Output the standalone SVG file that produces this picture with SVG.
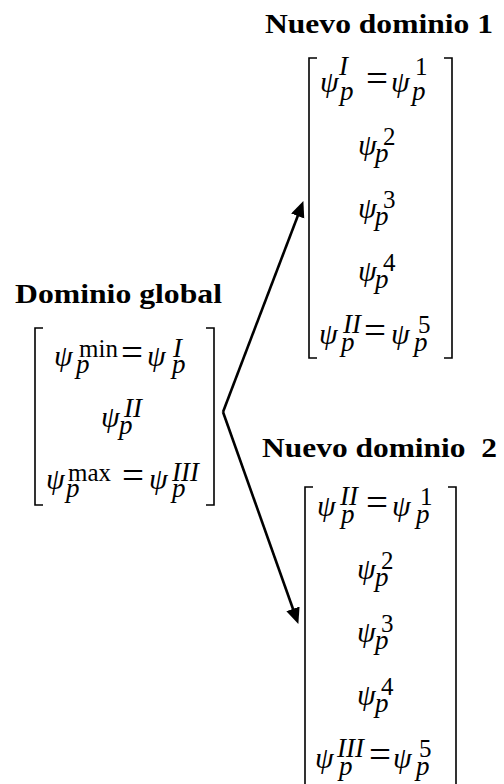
<svg xmlns="http://www.w3.org/2000/svg" width="504" height="784" viewBox="0 0 504 784">
<style>
text{font-family:"Liberation Serif","Times New Roman",serif;fill:#000}
.t{font-weight:bold;font-size:28px}
.m{font-style:italic;font-size:30px}
.s{font-style:italic;font-size:27px}
.d{font-style:normal;font-size:25px}
.e{font-style:normal;font-size:39px}
.br{fill:none;stroke:#000;stroke-width:1.6}
.ar{fill:none;stroke:#000;stroke-width:2.6}
</style>
<defs>
<marker id="ah" markerUnits="userSpaceOnUse" markerWidth="17" markerHeight="15" refX="2" refY="7" orient="auto">
<path d="M0,0 L16,7 L0,14 Z" fill="#000"/>
</marker>
</defs>
<rect width="504" height="784" fill="#fff"/>

<g id="dominio-global">
<text class="t" x="15" y="303" textLength="207" lengthAdjust="spacingAndGlyphs">Dominio global</text>
<path class="br" d="M43,328 H35 V505 H43"/>
<path class="br" d="M206,328 H214 V505 H206"/>
<text><tspan class="m" x="54" y="366">ψ</tspan><tspan class="d" x="79" y="357">min</tspan><tspan class="s" x="76" y="373">p</tspan><tspan class="e" x="121" y="366">=</tspan><tspan class="m" x="147" y="366">ψ</tspan><tspan class="s" x="173" y="357">I</tspan><tspan class="s" x="172" y="373">p</tspan></text>
<text><tspan class="m" x="101" y="427">ψ</tspan><tspan class="s" x="124" y="417">II</tspan><tspan class="s" x="119" y="434">p</tspan></text>
<text><tspan class="m" x="46" y="489">ψ</tspan><tspan class="d" x="68" y="481">max</tspan><tspan class="s" x="66" y="497">p</tspan><tspan class="e" x="122" y="489">=</tspan><tspan class="m" x="149" y="489">ψ</tspan><tspan class="s" x="172" y="481">III</tspan><tspan class="s" x="172" y="497">p</tspan></text>
</g>

<g id="nuevo-dominio-1">
<text class="t" x="265" y="33" textLength="228" lengthAdjust="spacingAndGlyphs">Nuevo dominio 1</text>
<path class="br" d="M317,58 H309 V358 H317"/>
<path class="br" d="M444,58 H452 V358 H444"/>
<text><tspan class="m" x="320" y="92">ψ</tspan><tspan class="s" x="339" y="75">I</tspan><tspan class="s" x="340" y="100">p</tspan><tspan class="e" x="366" y="92">=</tspan><tspan class="m" x="391" y="92">ψ</tspan><tspan class="d" x="415" y="75">1</tspan><tspan class="s" x="412" y="100">p</tspan></text>
<text><tspan class="m" x="358" y="155">ψ</tspan><tspan class="d" x="383" y="145">2</tspan><tspan class="s" x="375" y="162">p</tspan></text>
<text><tspan class="m" x="358" y="218">ψ</tspan><tspan class="d" x="383" y="208">3</tspan><tspan class="s" x="375" y="225">p</tspan></text>
<text><tspan class="m" x="358" y="281">ψ</tspan><tspan class="d" x="383" y="271">4</tspan><tspan class="s" x="375" y="288">p</tspan></text>
<text><tspan class="m" x="319" y="344">ψ</tspan><tspan class="s" x="343" y="333">II</tspan><tspan class="s" x="341" y="351">p</tspan><tspan class="e" x="364" y="344">=</tspan><tspan class="m" x="391" y="344">ψ</tspan><tspan class="d" x="418" y="333">5</tspan><tspan class="s" x="414" y="351">p</tspan></text>
</g>

<g id="nuevo-dominio-2">
<text class="t" x="262" y="457" textLength="235" lengthAdjust="spacingAndGlyphs" xml:space="preserve">Nuevo dominio  2</text>
<path class="br" d="M313,487 H305 V790"/>
<path class="br" d="M448,487 H456 V790"/>
<text><tspan class="m" x="317" y="516">ψ</tspan><tspan class="s" x="340" y="505">II</tspan><tspan class="s" x="341" y="523">p</tspan><tspan class="e" x="366" y="516">=</tspan><tspan class="m" x="392" y="516">ψ</tspan><tspan class="d" x="420" y="505">1</tspan><tspan class="s" x="416" y="523">p</tspan></text>
<text><tspan class="m" x="357" y="579">ψ</tspan><tspan class="d" x="381" y="569">2</tspan><tspan class="s" x="375" y="586">p</tspan></text>
<text><tspan class="m" x="357" y="642">ψ</tspan><tspan class="d" x="381" y="632">3</tspan><tspan class="s" x="375" y="649">p</tspan></text>
<text><tspan class="m" x="357" y="705">ψ</tspan><tspan class="d" x="381" y="695">4</tspan><tspan class="s" x="375" y="712">p</tspan></text>
<text><tspan class="m" x="315" y="768">ψ</tspan><tspan class="s" x="337" y="757">III</tspan><tspan class="s" x="339" y="775">p</tspan><tspan class="e" x="369" y="768">=</tspan><tspan class="m" x="393" y="768">ψ</tspan><tspan class="d" x="419" y="757">5</tspan><tspan class="s" x="416" y="775">p</tspan></text>
</g>

<g id="connectors">
<path class="ar" d="M223,412 L298.4,214.2" marker-end="url(#ah)"/>
<path class="ar" d="M223,412 L293.65,610.75" marker-end="url(#ah)"/>
</g>
</svg>
